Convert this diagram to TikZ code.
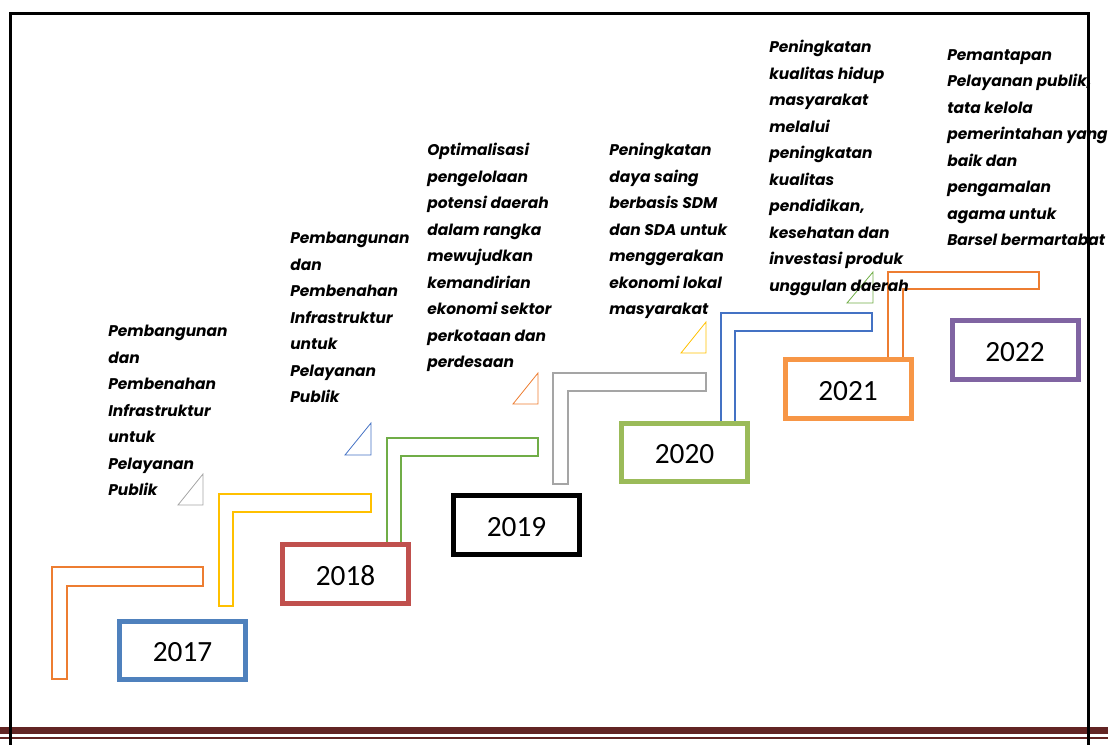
\documentclass[tikz,border=0pt]{standalone}
\usepackage{fontspec}
\newfontfamily\descfont{Poppins}
\newfontfamily\yearfont{Carlito}
\definecolor{cblue}{HTML}{4F81BD}
\definecolor{cred}{HTML}{C0504D}
\definecolor{cgreen}{HTML}{9BBB59}
\definecolor{corange}{HTML}{F79646}
\definecolor{cpurple}{HTML}{8064A2}
\definecolor{lorange}{HTML}{ED7D31}
\definecolor{lyellow}{HTML}{FFC000}
\definecolor{lgreen}{HTML}{70AD47}
\definecolor{lgray}{HTML}{A5A5A5}
\definecolor{lblue}{HTML}{4472C4}
\definecolor{barbrown}{HTML}{622423}
\begin{document}
\begin{tikzpicture}[x=0.75pt, y=-0.75pt,
        year/.style={draw, line width=3.75pt, minimum width=94.5pt, minimum height=44pt, inner sep=0pt, text height=17pt, text depth=0pt, font=\yearfont\fontsize{22}{26}\selectfont},
        desc/.style={anchor=north west, align=left, inner sep=0pt, font=\descfont\bfseries\itshape\fontsize{11.6}{19.9}\selectfont},
        stepline/.style={line width=0.8pt},
        tri/.style={line width=0.6pt}]
        \useasboundingbox (0,0) rectangle (1108,745);

        % Draw Steps
        \draw[stepline, lorange] (52,679) -- (52,567) -- (203,567) -- (203,586) -- (67,586) -- (67,679) -- cycle;
        \draw[stepline, lyellow] (219,606) -- (219,494) -- (371,494) -- (371,512) -- (233,512) -- (233,606) -- cycle;
        \draw[stepline, lgreen] (387,543) -- (387,438) -- (538,438) -- (538,456) -- (401,456) -- (401,543);
        \draw[stepline, lgray] (553,484) -- (553,373) -- (706,373) -- (706,391) -- (568,391) -- (568,484) -- cycle;
        \draw[stepline, lblue] (721,422) -- (721,313) -- (872,313) -- (872,331) -- (735,331) -- (735,422);
        \draw[stepline, lorange] (888,357) -- (888,272) -- (1039,272) -- (1039,289) -- (903,289) -- (903,357);

        % Draw Triangles
        \draw[tri, lgray] (178,505) -- (203,505) -- (203,474) -- cycle;
        \draw[tri, lblue] (345,455) -- (371,455) -- (371,423) -- cycle;
        \draw[tri, lorange] (513,404) -- (538,404) -- (538,373) -- cycle;
        \draw[tri, lyellow] (681,353) -- (706,353) -- (706,322) -- cycle;
        \draw[tri, lgreen] (847,303) -- (873,303) -- (873,272) -- cycle;

        % Define Nodes
        \node (2017) [year, cblue] at (182.5,650.5) {\textcolor{black}{2017}};
        \node (2018) [year, cred] at (345.5,574) {\textcolor{black}{2018}};
        \node (2019) [year, black] at (516.5,525) {2019};
        \node (2020) [year, cgreen] at (684.5,452.5) {\textcolor{black}{2020}};
        \node (2021) [year, corange] at (848,389) {\textcolor{black}{2021}};
        \node (2022) [year, cpurple] at (1015,350) {\textcolor{black}{2022}};

        % Define Texts
        \node (t2017) [desc] at (108,325) {Pembangunan\\dan\\Pembenahan\\Infrastruktur\\untuk\\Pelayanan\\Publik};
        \node (t2018) [desc] at (290,232) {Pembangunan\\dan\\Pembenahan\\Infrastruktur\\untuk\\Pelayanan\\Publik};
        \node (t2019) [desc] at (427,143) {Optimalisasi\\pengelolaan\\potensi daerah\\dalam rangka\\mewujudkan\\kemandirian\\ekonomi sektor\\perkotaan dan\\perdesaan};
        \node (t2020) [desc] at (609,143) {Peningkatan\\daya saing\\berbasis SDM\\dan SDA untuk\\menggerakan\\ekonomi lokal\\masyarakat};
        \node (t2021) [desc] at (769,40) {Peningkatan\\kualitas hidup\\masyarakat\\melalui\\peningkatan\\kualitas\\pendidikan,\\kesehatan dan\\investasi produk\\unggulan daerah};
        \node (t2022) [desc] at (947,49) {Pemantapan\\Pelayanan publik,\\tata kelola\\pemerintahan yang\\baik dan\\pengamalan\\agama untuk\\Barsel bermartabat};

        % Draw Frame
        \fill[barbrown] (0,727) rectangle (1108,734);
        \fill[barbrown] (0,737) rectangle (1108,739);
        \draw[line width=2.25pt] (10.5,745) -- (10.5,13.5) -- (1088,13.5) -- (1088,745);
    \end{tikzpicture}
\end{document}
